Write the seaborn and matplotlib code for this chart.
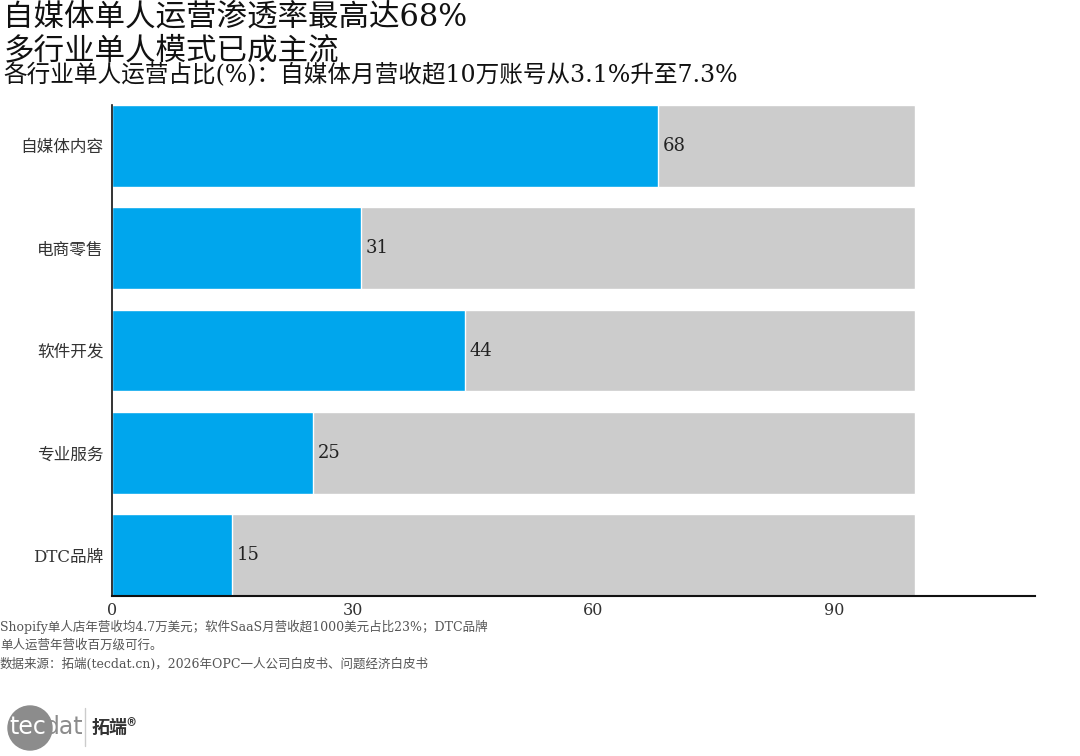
import matplotlib
matplotlib.use('Agg')
import matplotlib.pyplot as plt
import seaborn as sns
import pandas as pd
from matplotlib.patches import Circle

# 数据
categories = ['自媒体内容', '电商零售', '软件开发', '专业服务', 'DTC品牌']
values = [68, 31, 44, 25, 15]
full = [100, 100, 100, 100, 100]
xticks = [0, 30, 60, 90]

title1 = '自媒体单人运营渗透率最高达68%'
title2 = '多行业单人模式已成主流'
subtitle = '各行业单人运营占比(%)：自媒体月营收超10万账号从3.1%升至7.3%'
note1 = 'Shopify单人店年营收均4.7万美元；软件SaaS月营收超1000美元占比23%；DTC品牌'
note2 = '单人运营年营收百万级可行。'
source = '数据来源：拓端(tecdat.cn)，2026年OPC一人公司白皮书、问题经济白皮书'

sns.set_theme(style='white')
plt.rcParams['font.family'] = ['DejaVu Serif', 'Noto Sans CJK SC']
plt.rcParams['axes.unicode_minus'] = False

df = pd.DataFrame({'cat': categories, 'val': values, 'full': full})

fig = plt.figure(figsize=(10.8, 7.56), dpi=100)
ax = fig.add_axes([0.1037, 0.2116, 0.8546, 0.6494])

# 背景条 + 数值条
sns.barplot(data=df, y='cat', x='full', color='#CCCCCC', width=0.8,
            saturation=1, ax=ax, orient='h')
sns.barplot(data=df, y='cat', x='val', color='#00A6ED', width=0.8,
            saturation=1, ax=ax, orient='h')

for i, v in enumerate(values):
    ax.text(v + 0.6, i, str(v), va='center', ha='left', fontsize=13, color='#222222')

ax.set_xlim(0, 115)
ax.set_ylim(4.4, -0.4)
ax.set_xticks(xticks)
ax.set_xlabel('')
ax.set_ylabel('')
ax.tick_params(axis='both', length=0, labelsize=12, colors='#333333')
ax.tick_params(axis='x', pad=4, labelsize=11.5)
ax.tick_params(axis='y', pad=6)
for s in ['top', 'right']:
    ax.spines[s].set_visible(False)
ax.spines['left'].set_color('#111111')
ax.spines['bottom'].set_color('#111111')
ax.spines['left'].set_linewidth(1.2)
ax.spines['bottom'].set_linewidth(1.5)

fig.text(0.003, 0.977, title1, fontsize=22, va='center', ha='left', color='#111111')
fig.text(0.003, 0.933, title2, fontsize=22, va='center', ha='left', color='#111111')
fig.text(0.003, 0.900, subtitle, fontsize=17, va='center', ha='left', color='#111111')

fig.text(0.0, 0.171, note1, fontsize=9, va='center', ha='left', color='#555555')
fig.text(0.0, 0.146, note2, fontsize=9, va='center', ha='left', color='#555555')
fig.text(0.0, 0.121, source, fontsize=9, va='center', ha='left', color='#555555')

# logo
logo = fig.add_axes([0.0, 0.0, 1.0, 1.0], zorder=-1)
logo.set_xlim(0, 1080)
logo.set_ylim(756, 0)
logo.axis('off')
logo.add_patch(Circle((30, 728), 22, color='#8C8C8C'))
logo.text(9, 727, 'tec', fontsize=17, color='white', va='center', ha='left',
          family='Liberation Sans Narrow')
logo.text(45, 727, 'dat', fontsize=17, color='#8C8C8C', va='center', ha='left',
          family='Liberation Sans Narrow')
logo.plot([85, 85], [708, 746], color='#CCCCCC', lw=1)
logo.text(92, 727, '拓端®', fontsize=13, color='#333333', va='center', ha='left',
          family=['Noto Sans CJK SC', 'DejaVu Sans'], weight='bold')

fig.savefig('out.png', dpi=100)
